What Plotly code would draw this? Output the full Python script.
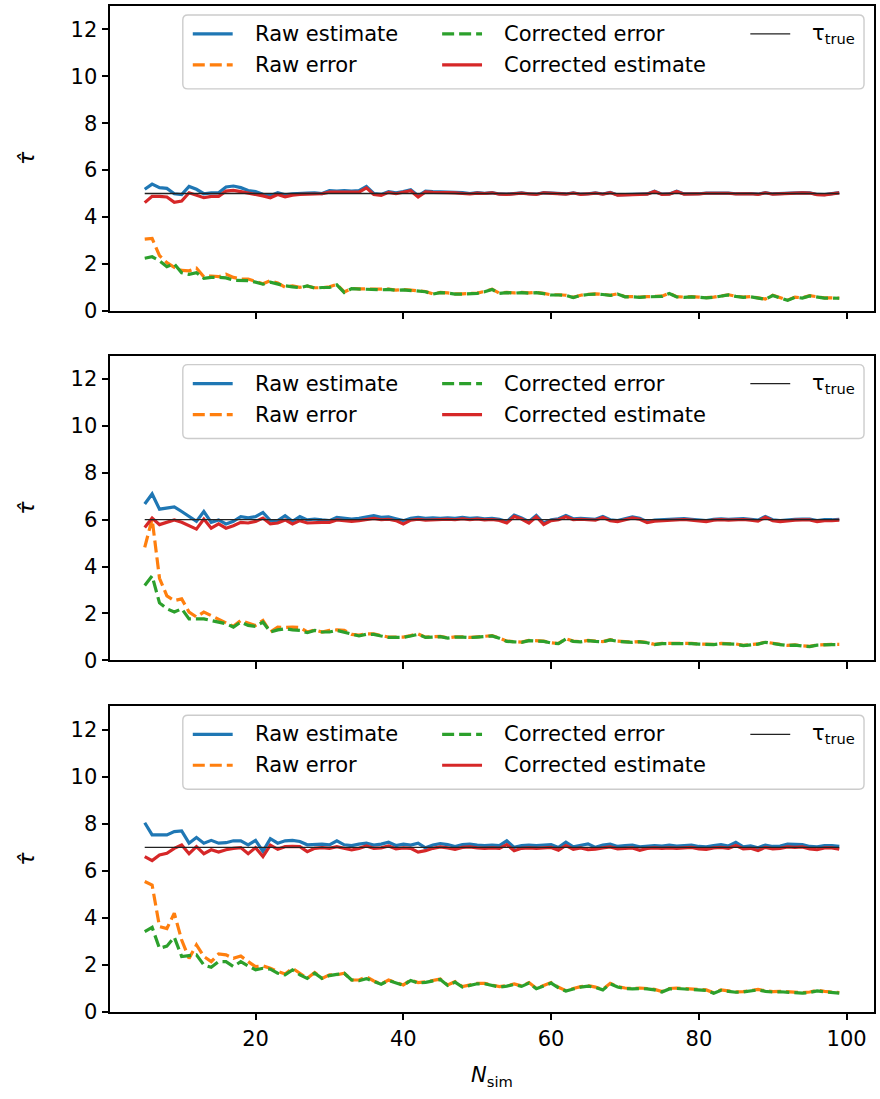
import plotly.graph_objects as go
from plotly.subplots import make_subplots

# ---------------------------------------------------------------- data
N_SIM = list(range(5, 100))
TAU_TRUE = [5, 6, 7]

# tau_true = 5
raw_est_1 = [
    5.18, 5.40, 5.25, 5.22, 4.99, 4.95, 5.30, 5.18, 4.99, 5.03,
    5.03, 5.28, 5.32, 5.25, 5.13, 5.08, 4.97, 4.90, 5.03, 4.94,
    4.99, 5.02, 5.02, 5.03, 5.00, 5.12, 5.10, 5.12, 5.10, 5.12,
    5.30, 5.00, 4.96, 5.08, 5.03, 5.08, 5.16, 4.90, 5.10, 5.08,
    5.06, 5.06, 5.05, 5.04, 5.00, 5.04, 5.01, 5.04, 4.98, 4.97,
    5.00, 5.03, 4.99, 4.97, 5.04, 5.02, 4.99, 4.98, 5.03, 4.97,
    4.99, 5.03, 4.98, 5.05, 4.94, 4.95, 4.94, 4.96, 4.98, 5.10,
    4.97, 4.98, 5.10, 4.98, 4.97, 4.99, 5.02, 5.02, 5.03, 5.02,
    4.99, 5.01, 5.00, 4.97, 5.04, 4.98, 5.00, 5.00, 5.01, 5.04,
    5.03, 4.96, 4.95, 4.98, 5.04,
]
raw_err_1 = [
    3.05, 3.08, 2.35, 2.05, 1.85, 1.72, 1.70, 1.82, 1.45, 1.48,
    1.45, 1.56, 1.42, 1.35, 1.35, 1.25, 1.15, 1.28, 1.18, 1.00,
    1.06, 1.00, 1.05, 0.98, 0.98, 1.02, 1.12, 0.80, 0.95, 0.93,
    0.93, 0.92, 0.90, 0.92, 0.88, 0.90, 0.88, 0.85, 0.82, 0.72,
    0.78, 0.76, 0.72, 0.72, 0.75, 0.75, 0.82, 0.92, 0.75, 0.78,
    0.76, 0.78, 0.76, 0.78, 0.74, 0.68, 0.68, 0.66, 0.57, 0.66,
    0.70, 0.72, 0.70, 0.66, 0.72, 0.60, 0.60, 0.58, 0.60, 0.60,
    0.62, 0.74, 0.60, 0.58, 0.60, 0.58, 0.56, 0.58, 0.62, 0.68,
    0.62, 0.58, 0.60, 0.55, 0.50, 0.66, 0.55, 0.45, 0.58, 0.55,
    0.64, 0.58, 0.55, 0.55, 0.54,
]
corr_err_1 = [
    2.24, 2.30, 2.13, 1.88, 2.00, 1.62, 1.55, 1.62, 1.38, 1.42,
    1.42, 1.40, 1.30, 1.30, 1.28, 1.22, 1.13, 1.22, 1.13, 1.06,
    1.02, 0.98, 1.06, 0.96, 0.99, 0.99, 1.10, 0.78, 0.94, 0.92,
    0.92, 0.91, 0.89, 0.91, 0.87, 0.89, 0.87, 0.84, 0.81, 0.71,
    0.77, 0.75, 0.71, 0.71, 0.74, 0.74, 0.81, 0.91, 0.74, 0.77,
    0.75, 0.77, 0.75, 0.77, 0.73, 0.67, 0.67, 0.65, 0.56, 0.65,
    0.69, 0.71, 0.69, 0.65, 0.71, 0.59, 0.59, 0.57, 0.59, 0.59,
    0.61, 0.73, 0.59, 0.57, 0.59, 0.57, 0.55, 0.57, 0.61, 0.67,
    0.61, 0.57, 0.59, 0.54, 0.49, 0.65, 0.54, 0.44, 0.57, 0.54,
    0.63, 0.57, 0.54, 0.54, 0.53,
]
corr_est_1 = [
    4.61, 4.88, 4.88, 4.85, 4.62, 4.68, 5.03, 4.93, 4.82, 4.88,
    4.88, 5.10, 5.13, 5.08, 5.03, 4.97, 4.90, 4.82, 4.96, 4.86,
    4.93, 4.96, 4.96, 4.99, 4.99, 5.06, 5.06, 5.07, 5.08, 5.06,
    5.24, 4.96, 4.92, 5.05, 4.99, 5.05, 5.12, 4.85, 5.07, 5.05,
    5.03, 5.04, 5.03, 5.02, 4.98, 5.02, 5.00, 5.03, 4.97, 4.96,
    4.99, 5.02, 4.98, 4.96, 5.03, 5.01, 4.98, 4.97, 5.02, 4.96,
    4.98, 5.02, 4.97, 5.04, 4.93, 4.94, 4.93, 4.95, 4.97, 5.09,
    4.96, 4.97, 5.09, 4.97, 4.96, 4.98, 5.01, 5.01, 5.02, 5.01,
    4.98, 5.00, 4.99, 4.96, 5.03, 4.97, 4.99, 4.99, 5.00, 5.03,
    5.02, 4.95, 4.94, 4.97, 5.03,
]

# tau_true = 6
raw_est_2 = [
    6.67, 7.10, 6.45, 6.50, 6.55, 6.35, 6.13, 5.93, 6.35, 5.89,
    5.99, 5.82, 5.93, 6.13, 6.08, 6.13, 6.31, 5.96, 5.96, 6.17,
    5.93, 6.13, 5.99, 6.03, 5.99, 5.96, 6.10, 6.08, 6.03, 6.06,
    6.10, 6.17, 6.10, 6.12, 6.04, 5.96, 6.06, 6.10, 6.06, 6.08,
    6.06, 6.08, 6.06, 6.10, 6.06, 6.08, 6.04, 6.06, 6.02, 5.92,
    6.20, 6.08, 5.92, 6.18, 5.86, 6.00, 6.04, 6.18, 6.04, 6.06,
    6.04, 6.02, 6.14, 6.00, 5.96, 6.04, 6.12, 6.06, 5.92, 5.98,
    6.00, 6.04, 6.06, 6.05, 6.02, 5.98, 5.96, 6.02, 6.04, 6.02,
    6.04, 6.05, 6.02, 5.98, 6.14, 6.00, 5.96, 6.00, 6.02, 6.03,
    6.03, 5.96, 6.00, 6.00, 6.02,
]
raw_err_2 = [
    4.82, 6.03, 3.50, 2.75, 2.55, 2.62, 2.06, 1.85, 2.06, 1.91,
    1.77, 1.63, 1.45, 1.70, 1.59, 1.49, 1.70, 1.21, 1.42, 1.40,
    1.42, 1.40, 1.21, 1.30, 1.21, 1.28, 1.30, 1.28, 1.11, 1.08,
    1.13, 1.13, 1.06, 0.99, 0.99, 0.99, 1.06, 1.13, 0.99, 1.00,
    1.02, 0.96, 1.00, 1.00, 0.98, 1.00, 1.02, 1.05, 0.95, 0.82,
    0.80, 0.78, 0.85, 0.85, 0.82, 0.75, 0.72, 0.92, 0.82, 0.80,
    0.85, 0.82, 0.80, 0.88, 0.82, 0.80, 0.78, 0.80, 0.76, 0.68,
    0.72, 0.72, 0.72, 0.74, 0.72, 0.70, 0.70, 0.68, 0.72, 0.72,
    0.70, 0.64, 0.66, 0.70, 0.78, 0.72, 0.68, 0.64, 0.66, 0.62,
    0.60, 0.66, 0.68, 0.68, 0.68,
]
corr_err_2 = [
    3.19, 3.60, 2.45, 2.20, 2.06, 2.20, 1.77, 1.77, 1.77, 1.70,
    1.63, 1.56, 1.42, 1.63, 1.49, 1.45, 1.63, 1.21, 1.30, 1.35,
    1.30, 1.28, 1.18, 1.28, 1.21, 1.21, 1.28, 1.21, 1.11, 1.04,
    1.11, 1.11, 1.04, 0.98, 0.98, 0.98, 1.04, 1.11, 0.98, 0.99,
    1.01, 0.95, 0.99, 0.99, 0.97, 0.99, 1.01, 1.04, 0.94, 0.81,
    0.79, 0.77, 0.84, 0.84, 0.81, 0.74, 0.71, 0.91, 0.81, 0.79,
    0.84, 0.81, 0.79, 0.87, 0.81, 0.79, 0.77, 0.79, 0.75, 0.67,
    0.71, 0.71, 0.71, 0.73, 0.71, 0.69, 0.69, 0.67, 0.71, 0.71,
    0.69, 0.63, 0.65, 0.69, 0.77, 0.71, 0.67, 0.63, 0.65, 0.61,
    0.59, 0.65, 0.67, 0.67, 0.67,
]
corr_est_2 = [
    5.67, 6.07, 5.79, 5.89, 5.99, 5.89, 5.74, 5.60, 6.03, 5.64,
    5.82, 5.64, 5.74, 5.89, 5.86, 5.93, 6.07, 5.82, 5.86, 5.99,
    5.82, 5.96, 5.86, 5.89, 5.89, 5.89, 5.99, 5.96, 5.93, 5.96,
    6.02, 6.06, 6.00, 6.02, 5.96, 5.82, 5.98, 6.02, 5.98, 6.00,
    5.99, 6.02, 6.00, 6.04, 6.00, 6.03, 5.99, 6.01, 5.97, 5.86,
    6.14, 6.03, 5.86, 6.13, 5.80, 5.96, 6.00, 6.13, 6.00, 6.02,
    6.00, 5.98, 6.10, 5.96, 5.92, 6.00, 6.08, 6.02, 5.88, 5.94,
    5.96, 6.00, 6.02, 6.01, 5.98, 5.94, 5.92, 5.98, 6.00, 5.98,
    6.00, 6.01, 5.98, 5.94, 6.10, 5.96, 5.92, 5.96, 5.98, 5.99,
    5.99, 5.92, 5.96, 5.96, 5.98,
]

# tau_true = 7
raw_est_3 = [
    8.05, 7.53, 7.53, 7.53, 7.67, 7.70, 7.18, 7.42, 7.18, 7.30,
    7.18, 7.20, 7.28, 7.28, 7.11, 7.30, 6.83, 7.37, 7.18, 7.28,
    7.30, 7.25, 7.11, 7.14, 7.14, 7.11, 7.28, 7.11, 7.08, 7.14,
    7.18, 7.10, 7.14, 7.22, 7.08, 7.14, 7.10, 7.18, 6.98, 7.10,
    7.16, 7.12, 7.04, 7.12, 7.14, 7.10, 7.08, 7.10, 7.08, 7.28,
    7.00, 7.08, 7.10, 7.08, 7.10, 7.12, 7.00, 7.22, 7.02, 7.10,
    7.15, 7.00, 7.10, 7.14, 7.04, 7.08, 7.10, 7.02, 7.06, 7.08,
    7.06, 7.10, 7.06, 7.08, 7.10, 7.04, 7.02, 7.08, 7.12, 7.06,
    7.22, 7.02, 7.06, 6.98, 7.10, 7.04, 7.06, 7.14, 7.12, 7.12,
    7.04, 7.02, 7.08, 7.08, 7.04,
]
raw_err_3 = [
    5.55, 5.40, 3.63, 3.55, 4.20, 3.06, 2.28, 2.85, 2.36, 2.14,
    2.47, 2.43, 2.28, 2.38, 2.14, 1.93, 1.96, 1.86, 1.72, 1.62,
    1.86, 1.65, 1.43, 1.68, 1.43, 1.58, 1.58, 1.65, 1.36, 1.36,
    1.50, 1.32, 1.19, 1.36, 1.26, 1.15, 1.36, 1.25, 1.28, 1.35,
    1.40, 1.15, 1.29, 1.08, 1.15, 1.22, 1.22, 1.15, 1.08, 1.12,
    1.19, 1.11, 1.25, 1.01, 1.12, 1.25, 1.05, 0.91, 1.00, 1.08,
    1.12, 1.06, 0.96, 1.22, 1.08, 1.02, 1.00, 1.02, 1.00, 0.96,
    0.87, 1.00, 1.02, 1.00, 1.01, 0.98, 0.94, 0.82, 0.94, 0.90,
    0.86, 0.87, 0.92, 0.96, 0.90, 0.87, 0.88, 0.86, 0.84, 0.82,
    0.85, 0.92, 0.88, 0.86, 0.82,
]
corr_err_3 = [
    3.42, 3.60, 2.71, 2.80, 3.18, 2.36, 2.40, 2.43, 2.00, 1.90,
    2.14, 2.14, 1.93, 2.14, 1.96, 1.79, 1.86, 1.82, 1.65, 1.58,
    1.79, 1.58, 1.43, 1.65, 1.43, 1.55, 1.60, 1.65, 1.36, 1.33,
    1.42, 1.30, 1.18, 1.34, 1.24, 1.13, 1.34, 1.23, 1.26, 1.33,
    1.38, 1.13, 1.27, 1.06, 1.13, 1.20, 1.20, 1.13, 1.06, 1.10,
    1.17, 1.09, 1.23, 0.99, 1.10, 1.23, 1.03, 0.89, 0.98, 1.06,
    1.10, 1.04, 0.94, 1.20, 1.06, 1.00, 0.98, 1.00, 0.98, 0.94,
    0.85, 0.98, 1.00, 0.98, 0.99, 0.96, 0.92, 0.80, 0.92, 0.88,
    0.84, 0.85, 0.90, 0.94, 0.88, 0.85, 0.86, 0.84, 0.82, 0.80,
    0.83, 0.90, 0.86, 0.84, 0.80,
]
corr_est_3 = [
    6.61, 6.44, 6.68, 6.75, 6.96, 7.10, 6.73, 7.03, 6.73, 6.90,
    6.80, 6.90, 6.96, 6.99, 6.73, 6.99, 6.61, 7.10, 6.92, 7.03,
    7.04, 7.03, 6.82, 6.96, 6.99, 6.96, 7.03, 6.96, 6.89, 6.96,
    7.06, 6.96, 6.98, 7.06, 6.94, 6.98, 6.96, 6.80, 6.86, 6.96,
    7.02, 6.98, 6.92, 7.00, 7.02, 6.98, 6.96, 6.98, 6.96, 7.12,
    6.86, 6.96, 6.98, 6.96, 6.98, 7.00, 6.88, 7.08, 6.92, 6.98,
    6.90, 6.92, 6.98, 7.02, 6.94, 6.96, 6.98, 6.88, 6.96, 6.98,
    6.96, 6.98, 6.96, 6.98, 7.00, 6.94, 6.92, 6.98, 7.00, 6.96,
    7.08, 6.94, 6.96, 6.87, 7.00, 6.94, 6.96, 7.02, 7.00, 7.02,
    6.94, 6.90, 6.98, 6.98, 6.92,
]

PANELS = [
    (raw_est_1, raw_err_1, corr_err_1, corr_est_1),
    (raw_est_2, raw_err_2, corr_err_2, corr_est_2),
    (raw_est_3, raw_err_3, corr_err_3, corr_est_3),
]

X_TICKS = [20, 40, 60, 80, 100]
Y_TICKS = [0, 2, 4, 6, 8, 10, 12]

# ---------------------------------------------------------------- style
BLUE, ORANGE, GREEN, RED = "#1f77b4", "#ff7f0e", "#2ca02c", "#d62728"
LW = 3.2
DASH = "12px,5px"
FONT = "DejaVu Sans"
FS = 21

W, H = 880, 1099
ML, MR, MT, MB = 110, 4, 5, 87
PW, PH = W - ML - MR, H - MT - MB

# pixel extents (top, bottom) of the three panels
PANEL_PX = [(5, 310), (355, 660), (706, 1012)]


def px_x(px):
    return (px - ML) / PW


def px_y(py):
    return (H - MB - py) / PH


fig = make_subplots(rows=3, cols=1, shared_xaxes=True)

for i, (est_raw, err_raw, err_corr, est_corr) in enumerate(PANELS):
    row = i + 1
    tau = TAU_TRUE[i]
    fig.add_trace(go.Scatter(x=N_SIM, y=est_raw, mode="lines", name="Raw estimate",
                             line=dict(color=BLUE, width=LW)), row=row, col=1)
    fig.add_trace(go.Scatter(x=N_SIM, y=err_raw, mode="lines", name="Raw error",
                             line=dict(color=ORANGE, width=LW, dash=DASH)), row=row, col=1)
    fig.add_trace(go.Scatter(x=N_SIM, y=err_corr, mode="lines", name="Corrected error",
                             line=dict(color=GREEN, width=LW, dash=DASH)), row=row, col=1)
    fig.add_trace(go.Scatter(x=N_SIM, y=est_corr, mode="lines", name="Corrected estimate",
                             line=dict(color=RED, width=LW)), row=row, col=1)
    fig.add_trace(go.Scatter(x=[N_SIM[0], N_SIM[-1]], y=[tau, tau], mode="lines",
                             name="τ_true", line=dict(color="#222222", width=1.3)),
                  row=row, col=1)

axis_common = dict(
    showline=True, linecolor="black", linewidth=1.5, mirror=True,
    ticks="outside", ticklen=6.7, tickwidth=1.5, tickcolor="black",
    showgrid=False, zeroline=False,
    tickfont=dict(family=FONT, size=FS, color="black"),
)

for i, (top, bot) in enumerate(PANEL_PX):
    n = "" if i == 0 else str(i + 1)
    fig.layout["yaxis" + n].update(
        domain=[px_y(bot), px_y(top)], range=[0, 13], tickvals=Y_TICKS,
        title=dict(text="<i>τ̂</i>", font=dict(family=FONT, size=22, color="black"),
                   standoff=30),
        **axis_common)
    fig.layout["xaxis" + n].update(
        range=[0.3, 103.7], tickvals=X_TICKS, showticklabels=(i == 2),
        **axis_common)

fig.layout.xaxis3.title = dict(text="<i>N</i><sub>sim</sub>",
                               font=dict(family=FONT, size=FS, color="black"),
                               standoff=18)

# ---------------------------------------------------------------- legends
LEGEND_ITEMS = [
    # (label, colour, dash, width, column, row)
    ("Raw estimate", BLUE, "solid", LW, 0, 0),
    ("Raw error", ORANGE, DASH, LW, 0, 1),
    ("Corrected error", GREEN, DASH, LW, 1, 0),
    ("Corrected estimate", RED, "solid", LW, 1, 1),
    ("τ<sub>true</sub>", "#222222", "solid", 1.3, 2, 0),
]
COL_LINE_X = [193, 443, 752]
LINE_LEN = 40
TEXT_GAP = 20
ROW_DY = [28, 59]
BOX_X = (183, 866)
BOX_DY = (9, 83)
R = 5

shapes = []
annotations = []
for top, _ in PANEL_PX:
    x0, x1 = BOX_X
    y0, y1 = top + BOX_DY[0], top + BOX_DY[1]
    pts = [
        ("M", x0 + R, y0), ("L", x1 - R, y0), ("Q", x1, y0, x1, y0 + R),
        ("L", x1, y1 - R), ("Q", x1, y1, x1 - R, y1), ("L", x0 + R, y1),
        ("Q", x0, y1, x0, y1 - R), ("L", x0, y0 + R), ("Q", x0, y0, x0 + R, y0),
    ]
    path = ""
    for p in pts:
        cmd, coords = p[0], p[1:]
        xy = []
        for k in range(0, len(coords), 2):
            xy.append(f"{px_x(coords[k]):.5f},{px_y(coords[k + 1]):.5f}")
        path += cmd + " " + " ".join(xy) + " "
    shapes.append(dict(type="path", path=path + "Z", xref="paper", yref="paper",
                       fillcolor="rgba(255,255,255,0.8)",
                       line=dict(color="#cccccc", width=1.4), layer="above"))
    for label, color, dash, width, col, row in LEGEND_ITEMS:
        ly = top + ROW_DY[row]
        lx = COL_LINE_X[col]
        shapes.append(dict(type="line", xref="paper", yref="paper",
                           x0=px_x(lx), x1=px_x(lx + LINE_LEN),
                           y0=px_y(ly), y1=px_y(ly),
                           line=dict(color=color, width=width, dash=dash),
                           layer="above"))
        annotations.append(dict(text=label, xref="paper", yref="paper",
                                x=px_x(lx + LINE_LEN + TEXT_GAP), y=px_y(ly),
                                xanchor="left", yanchor="middle", showarrow=False,
                                font=dict(family=FONT, size=FS, color="black")))

fig.update_layout(
    width=W, height=H,
    margin=dict(l=ML, r=MR, t=MT, b=MB),
    paper_bgcolor="white", plot_bgcolor="white",
    showlegend=False,
    shapes=shapes, annotations=annotations,
    font=dict(family=FONT, size=FS, color="black"),
)

fig.write_html("out.html")
